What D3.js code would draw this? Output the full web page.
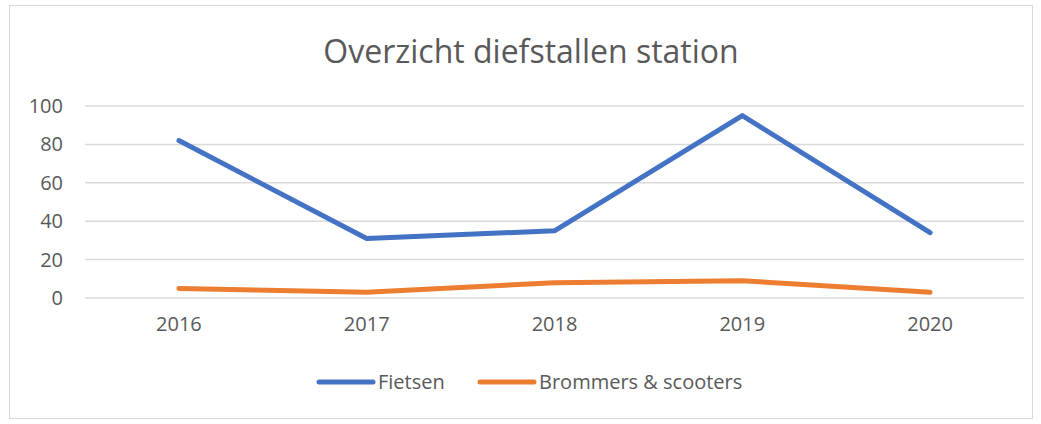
<!DOCTYPE html>
<html>
<head>
<meta charset="utf-8">
<script src="https://cdn.jsdelivr.net/npm/d3@7"></script>
<style>
  body { margin: 0; background: #fff; }
  svg { display: block; }
</style>
</head>
<body>
<div id="chart"></div>
<script>
// data
var years = ["2016", "2017", "2018", "2019", "2020"];
var fietsen = [82, 31, 35, 95, 34];
var brommers = [5, 3, 8, 9, 3];
var yTicks = [0, 20, 40, 60, 80, 100];
var seriesNames = ["Fietsen", "Brommers & scooters"];
var seriesColors = ["#4472c4", "#ed7d31"];

var width = 1041, height = 424;
var font = "'Open Sans', 'Liberation Sans', sans-serif";
var textColor = "#595959";

var svg = d3.select("#chart").append("svg")
  .attr("width", width)
  .attr("height", height);

// chart border
svg.append("rect")
  .attr("x", 9.5).attr("y", 5.5)
  .attr("width", 1023).attr("height", 413)
  .attr("fill", "#fff")
  .attr("stroke", "#d9d9d9")
  .attr("stroke-width", 1);

svg.append("text")
  .attr("x", 531).attr("y", 63)
  .attr("text-anchor", "middle")
  .style("font-family", font)
  .style("font-size", "32px")
  .style("fill", textColor)
  .text("Overzicht diefstallen station");

var plotLeft = 85, plotRight = 1024, plotTop = 106, plotBottom = 298;

var x = d3.scaleBand().domain(years).range([plotLeft, plotRight]);
var y = d3.scaleLinear().domain([0, 100]).range([plotBottom, plotTop]);

// gridlines
svg.append("g")
  .selectAll("line")
  .data(yTicks)
  .enter().append("line")
  .attr("x1", plotLeft).attr("x2", plotRight)
  .attr("y1", d => y(d)).attr("y2", d => y(d))
  .attr("stroke", "#d9d9d9")
  .attr("stroke-width", 1.5);

// y axis labels
var yAxis = svg.append("g")
  .attr("transform", "translate(" + (plotLeft - 22) + ",0)")
  .call(d3.axisLeft(y).tickValues(yTicks).tickSize(0).tickPadding(0));
yAxis.select(".domain").remove();
yAxis.selectAll("text")
  .style("font-family", font)
  .style("font-size", "20px")
  .style("fill", textColor);

// x axis labels
var xAxis = svg.append("g")
  .attr("transform", "translate(0," + (plotBottom + 19) + ")")
  .call(d3.axisBottom(x).tickSize(0).tickPadding(0));
xAxis.select(".domain").remove();
xAxis.selectAll("text")
  .style("font-family", font)
  .style("font-size", "20px")
  .style("fill", textColor);

var line = d3.line()
  .x((d, i) => x(years[i]) + x.bandwidth() / 2)
  .y(d => y(d));

[fietsen, brommers].forEach(function (s, i) {
  svg.append("path")
    .datum(s)
    .attr("d", line)
    .attr("fill", "none")
    .attr("stroke", seriesColors[i])
    .attr("stroke-width", 5)
    .attr("stroke-linecap", "round")
    .attr("stroke-linejoin", "round");
});

// legend
var legendX = [319, 480];
var legend = svg.append("g");
seriesNames.forEach(function (name, i) {
  legend.append("line")
    .attr("x1", legendX[i]).attr("x2", legendX[i] + 54)
    .attr("y1", 382).attr("y2", 382)
    .attr("stroke", seriesColors[i])
    .attr("stroke-width", 5)
    .attr("stroke-linecap", "round");
  legend.append("text")
    .attr("x", legendX[i] + 59).attr("y", 389)
    .style("font-family", font)
    .style("font-size", "20px")
    .style("fill", textColor)
    .text(name);
});
</script>
</body>
</html>
